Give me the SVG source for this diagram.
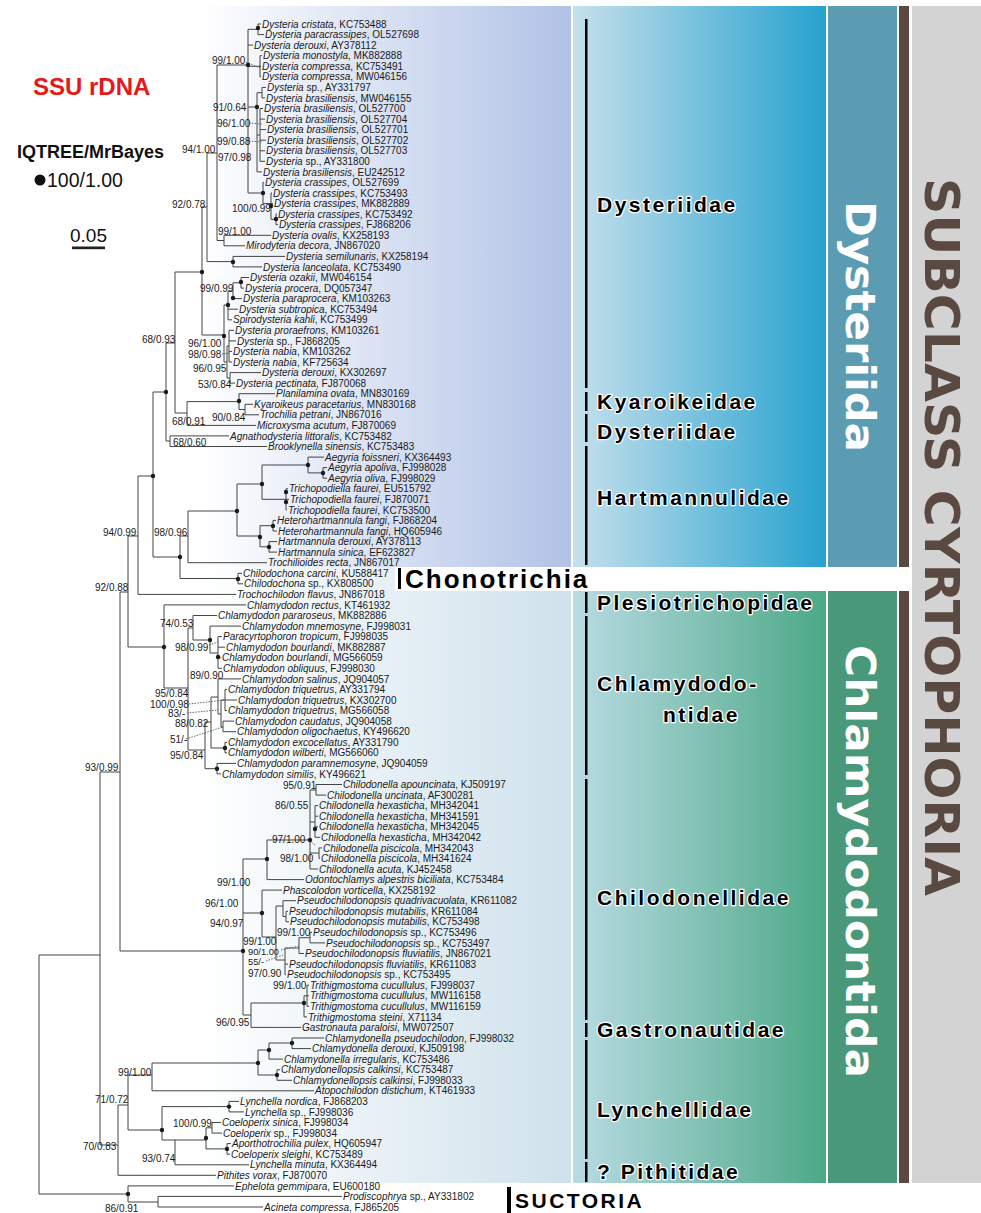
<svg xmlns="http://www.w3.org/2000/svg" width="981" height="1213" viewBox="0 0 981 1213">
<style>
.t{font-family:"Liberation Sans",Arial,sans-serif;font-size:10px;fill:#1a1a1a}
.i{font-style:italic}
.s{font-family:"Liberation Sans",Arial,sans-serif;font-size:10px;fill:#1a1a1a}
.s9{font-family:"Liberation Sans",Arial,sans-serif;font-size:9.3px;fill:#1a1a1a}
.fam{font-family:"Liberation Sans",Arial,sans-serif;font-weight:bold;font-size:21px;letter-spacing:2.5px;fill:#000;stroke:#fff;stroke-width:2.5px;paint-order:stroke;stroke-linejoin:round}
.br{fill:none;stroke:#444;stroke-width:1}
.dt{fill:none;stroke:#555;stroke-width:0.9;stroke-dasharray:1.5 1.3}
.d{fill:#1a1a1a}
.vbar{fill:#000}
.band{font-family:"DejaVu Sans Condensed","DejaVu Sans","Liberation Sans",sans-serif;font-stretch:condensed;font-weight:bold;font-size:40px;fill:#fff}
.sub{font-family:"DejaVu Sans Condensed","DejaVu Sans","Liberation Sans",sans-serif;font-stretch:condensed;font-weight:bold;font-size:48px;fill:#5a4940}
</style>
<defs>
<linearGradient id="gUL" x1="0" x2="1" y1="0" y2="0"><stop offset="0" stop-color="#ffffff"/><stop offset="1" stop-color="#b1c2e6"/></linearGradient>
<linearGradient id="gUR" x1="0" x2="1" y1="0" y2="0"><stop offset="0" stop-color="#c6e0ec"/><stop offset="1" stop-color="#27a2cf"/></linearGradient>
<linearGradient id="gLL" x1="0" x2="1" y1="0" y2="0"><stop offset="0" stop-color="#ffffff"/><stop offset="1" stop-color="#cfe1ec"/></linearGradient>
<linearGradient id="gLR" x1="0" x2="1" y1="0" y2="0"><stop offset="0" stop-color="#b9dbe3"/><stop offset="1" stop-color="#4ca887"/></linearGradient>
</defs>
<rect width="981" height="1213" fill="#fff"/>
<g id="backgrounds">
<rect x="200" y="6" width="371" height="561" fill="url(#gUL)"/>
<rect x="573" y="6" width="253" height="561" fill="url(#gUR)"/>
<rect x="828" y="6" width="69" height="561" fill="#5c9cb2"/>
<rect x="200" y="567" width="371" height="616" fill="url(#gLL)"/>
<rect x="573" y="591" width="253" height="592" fill="url(#gLR)"/>
<rect x="828" y="591" width="69" height="592" fill="#4a987a"/>
<rect x="899" y="6" width="10" height="1177" fill="#5a4940"/>
<rect x="912" y="6" width="69" height="1177" fill="#d3d3d3"/>
<rect x="395" y="567" width="516" height="24" fill="#fff"/>
</g>
<g id="legend">
<text x="33" y="95" font-family="Liberation Sans,Arial,sans-serif" font-weight="bold" font-size="24" fill="#e3191b">SSU rDNA</text>
<text x="17" y="158" font-family="Liberation Sans,Arial,sans-serif" font-weight="bold" font-size="18" fill="#111">IQTREE/MrBayes</text>
<circle cx="40" cy="180" r="5.5" fill="#111"/>
<text x="47" y="187" font-family="Liberation Sans,Arial,sans-serif" font-size="19.5" fill="#111">100/1.00</text>
<text x="70" y="241.5" font-family="Liberation Sans,Arial,sans-serif" font-size="19" fill="#111">0.05</text>
<rect x="72" y="246.5" width="33" height="2.7" fill="#222"/>
</g>
<g id="connectors">
<path class="br" d="M258,24V34.6M258,24H261M258,34.6H264M248,29.3H258M248,45.1H253
M260,55.7V76.8M260,55.7H262M260,66.3H261M260,76.8H261M248,66.3H260
M257,92.7V171.9M248,107H257M262,87.4V97.9M262,87.4H266M262,97.9H265M257,92.7H262
M260,108.5V161.3M260,108.5H263M260,119.1H265M260,129.6H266M260,140.2H266M260,150.8H265M260,161.3H265M257,135H260M257,171.9H262
M263,182.4V203.6M263,182.4H264M248,193H263M271,193V219.4M271,193H272M271,203.6H273M263,203.6H271
M276,214.1V224.7M276,214.1H277M276,224.7H278M271,219.4H276
M248,29.3V193M217,65H248M224,235.3V245.8M224,235.3H271M224,245.8H245M217,240.5H224M217,65V240.5M207,153H217
M233,256.4V266.9M233,256.4H285M233,266.9H262M207,261.6H233M207,153V261.6M202,207H207
M241,277.5V288.1M241,277.5H249M241,288.1H244M233,282.8H241M233,282.8V298.6M233,298.6H242M228,291H233
M228,291V319.8M228,309.2H238M228,319.8H232M224,305H228
M229,330.3V362M229,330.3H234M229,340.9H236M229,351.4H232M229,362H232M227,346H229
M230,372.6V383.1M230,372.6H261M230,383.1H235M227,378H230M227,346V378M224,362H227M224,305V362M202,335H224
M202,207V335M175,272H202
M245,404.3V414.8M245,404.3H253M245,414.8H259M239,409.5H245M239,393.7V409.5M239,393.7H275M187,401.6H239
M187,401.6V425.4M187,425.4H256M175,413H187M175,272V413M166,343H175
M170,435.9V446.5M170,435.9H229M170,446.5H267M166,441H170M166,343V441M153,392H166
M323,467.6V478.2M323,467.6H327M323,478.2H327M308,472.9H323M308,457.1V472.9M308,457.1H324M262,465H308
M286,488.8V509.9M286,488.8H288M286,499.3H289M286,509.9H287M262,499.3H286M262,465V499.3M237,484H262
M273,520.4V531M273,520.4H276M273,531H277M260,525.7H273M269,541.6V552.1M269,541.6H277M269,552.1H277M260,546.8H269
M260,525.7V546.8M237,536H260M237,484V536M188,511H237M188,511V562.7M188,562.7H267M180,536H188
M238,573.3V583.8M238,573.3H242M238,583.8H243M180,578.5H238M180,536V578.5M153,557H180M153,392V557M138,476H153
M138,476V594.4M138,594.4H236M128,536H138M128,536V647M120,592H128
M164,604.9V688M164,604.9H246M128,647H164M188,628V750M164,688H188
M193,615.5V640M193,615.5H217M188,628H193M210,626.1V653M210,626.1H241M193,640H210
M218,636.6V668.3M218,636.6H222M218,647.2H225M218,657.8H221M218,668.3H222M210,653H218
M218,678.9V714M218,678.9H241M211,697H218M221,700V727M218,714H221
M225,689.4V710.6M225,689.4H227M225,700H237M225,710.6H227M221,700H225
M223,721.1V731.7M223,721.1H234M223,731.7H236M221,727H223
M225,742.3V752.8M225,742.3H227M225,752.8H227M211,748H225M211,697V748M205,722H211
M217,763.4V773.9M217,763.4H236M217,773.9H221M205,768.7H217M205,722V768.7M188,750H205
M120,592V951M100,772H120M100,772V1145M39,955H100
M316,784.5V795.1M316,784.5H342M316,795.1H326M310,790H316
M315,805.6V837.3M315,805.6H318M315,816.2H318M315,826.8H318M315,837.3H320M310,822H315
M319,847.9V858.4M319,847.9H322M319,858.4H320M310,853H319
M310,790V869M310,869H318M267,840H310M267,840V879.6M267,879.6H304M243,859H267
M286,911.3V921.8M286,911.3H288M286,921.8H289M283,916.5H286M283,900.7V916.5M283,900.7H296M276,906H283
M310,932.4V942.9M310,932.4H312M310,942.9H325M299,937.7H310M299,937.7V953.5M299,953.5H304M285,948H299
M285,948V974.6M285,964.1H288M285,974.6H286M276,960H285M276,906V960M262,937H276
M262,890.1V937M262,890.1H282M243,913H262
M307,985.2V1006.3M307,985.2H309M307,995.8H309M307,1006.3H309M304,995.8H307M304,995.8V1016.9M304,1016.9H307M251,1003H304
M251,1003V1027.4M251,1027.4H301M243,1015H251M243,859V1015M120,951H243
M292,1038V1048.6M292,1038H324M292,1048.6H311M269,1043H292M269,1043V1059.1M269,1059.1H283M258,1050H269
M277,1069.7V1080.3M277,1069.7H280M277,1080.3H292M258,1075H277M258,1050V1075M152,1063H258
M152,1063V1090.8M152,1090.8H314M128,1075H152
M229,1101.4V1111.9M229,1101.4H239M229,1111.9H244M162,1106.6H229
M212,1122.5V1133.1M212,1122.5H221M212,1133.1H222M206,1127.8H212
M227,1143.6V1154.2M227,1143.6H231M227,1154.2H230M206,1148.9H227M206,1127.8V1148.9M175,1140H206
M175,1140V1164.8M175,1164.8H249M162,1140H175M162,1106.6V1140M128,1130H162
M128,1075V1130M118,1105H128M118,1105V1175.3M118,1175.3H216M100,1145H118
M39,955V1194M128,1185.9V1202M128,1185.9H234M39,1194H128M158,1196.4V1207M158,1196.4H342M158,1207H263M128,1202H158"/>
<path class="dt" d="M246,62L260,68M249,123L262,124M249,141L262,142M222,354L229,353M209,645L218,642M189,704L225,700M187,713L218,710M186,739L223,727M307,839L315,845M281,950L299,946M266,961L283,955"/>
<g class="d">
<circle cx="258" cy="28" r="2.2"/><circle cx="248" cy="65" r="2.2"/><circle cx="257" cy="107" r="2.2"/><circle cx="263" cy="193" r="2.2"/><circle cx="271" cy="206" r="2.2"/><circle cx="276" cy="219" r="2.2"/>
<circle cx="202" cy="272" r="2.2"/><circle cx="233" cy="262" r="2.2"/><circle cx="241" cy="282" r="2.2"/><circle cx="233" cy="298" r="2.2"/><circle cx="228" cy="305" r="2.2"/><circle cx="224" cy="336" r="2.2"/>
<circle cx="166" cy="392" r="2.2"/><circle cx="239" cy="401" r="2.2"/><circle cx="153" cy="476" r="2.2"/><circle cx="308" cy="465" r="2.2"/><circle cx="323" cy="473" r="2.2"/><circle cx="262" cy="484" r="2.2"/>
<circle cx="286" cy="492" r="2.2"/><circle cx="286" cy="502" r="2.2"/><circle cx="237" cy="511" r="2.2"/><circle cx="273" cy="526" r="2.2"/><circle cx="260" cy="537" r="2.2"/><circle cx="269" cy="547" r="2.2"/>
<circle cx="180" cy="557" r="2.2"/><circle cx="238" cy="579" r="2.2"/><circle cx="164" cy="647" r="2.2"/><circle cx="210" cy="640" r="2.2"/><circle cx="218" cy="657" r="2.2"/><circle cx="225" cy="748" r="2.2"/><circle cx="217" cy="768.7" r="2.2"/>
<circle cx="243" cy="951" r="2.2"/><circle cx="267" cy="859" r="2.2"/><circle cx="310" cy="840" r="2.2"/><circle cx="315" cy="829" r="2.2"/><circle cx="262" cy="913" r="2.2"/><circle cx="304" cy="1003" r="2.2"/>
<circle cx="258" cy="1063" r="2.2"/><circle cx="269" cy="1050" r="2.2"/><circle cx="292" cy="1043" r="2.2"/><circle cx="277" cy="1075" r="2.2"/><circle cx="162" cy="1130" r="2.2"/><circle cx="229" cy="1106.6" r="2.2"/>
<circle cx="206" cy="1138" r="2.2"/><circle cx="227" cy="1148.9" r="2.2"/><circle cx="128" cy="1194" r="2.2"/>
</g>
</g>
<g id="supports">
<text class="s" x="212" y="63.5">99/1.00</text><text class="s" x="213" y="110.5">91/0.64</text><text class="s" x="217" y="126.5">96/1.00</text><text class="s" x="217" y="144.5">99/0.88</text>
<text class="s" x="182" y="152.5">94/1.00</text><text class="s" x="218" y="160.5">97/0.98</text><text class="s" x="172" y="207.5">92/0.78</text><text class="s" x="232" y="211.5">100/0.99</text>
<text class="s" x="218" y="234.5">99/1.00</text><text class="s" x="200" y="291.5">99/0.99</text><text class="s" x="142" y="342.5">68/0.93</text><text class="s" x="188" y="346.5">96/1.00</text>
<text class="s" x="188" y="357.5">98/0.98</text><text class="s" x="193" y="371.5">96/0.95</text><text class="s" x="198" y="387.5">53/0.84</text><text class="s" x="212" y="420.5">90/0.84</text>
<text class="s" x="172" y="424.5">68/0.91</text><text class="s" x="173" y="445.5">68/0.60</text><text class="s" x="103" y="535.5">94/0.99</text><text class="s" x="154" y="535.5">98/0.96</text>
<text class="s" x="95" y="590.5">92/0.88</text><text class="s" x="160" y="626.5">74/0.53</text><text class="s" x="175" y="650.5">98/0.99</text><text class="s" x="190" y="678.5">89/0.90</text>
<text class="s" x="155" y="696.5">95/0.84</text><text class="s" x="150" y="707.5">100/0.98</text><text class="s" x="168" y="716.5">83/-</text><text class="s" x="175" y="726.5">88/0.82</text>
<text class="s" x="170" y="742.5">51/-</text><text class="s" x="170" y="758.5">95/0.84</text><text class="s" x="85" y="770.5">93/0.99</text><text class="s" x="283" y="788.5">95/0.91</text>
<text class="s" x="275" y="808.5">86/0.55</text><text class="s" x="272" y="842.5">97/1.00</text><text class="s" x="280" y="861.5">98/1.00</text><text class="s" x="217" y="885.5">99/1.00</text>
<text class="s" x="205" y="906.5">96/1.00</text><text class="s" x="210" y="926.5">94/0.97</text><text class="s" x="277" y="935.5">99/1.00</text><text class="s" x="243" y="945">99/1.00</text>
<text class="s9" x="248" y="954.5">90/1.00</text><text class="s9" x="248" y="965">55/-</text><text class="s" x="248" y="976.5">97/0.90</text><text class="s" x="273" y="988.5">99/1.00</text>
<text class="s" x="216" y="1025.5">96/0.95</text><text class="s" x="118" y="1075.5">99/1.00</text><text class="s" x="95" y="1102.5">71/0.72</text><text class="s" x="173" y="1126.5">100/0.99</text>
<text class="s" x="83" y="1149.5">70/0.83</text><text class="s" x="142" y="1161.5">93/0.74</text><text class="s" x="105" y="1212">86/0.91</text>
</g>
<g id="leaves">
<text class="t" x="262" y="27.6"><tspan class="i">Dysteria cristata</tspan>, KC753488</text>
<text class="t" x="265" y="38.2"><tspan class="i">Dysteria paracrassipes</tspan>, OL527698</text>
<text class="t" x="254" y="48.7"><tspan class="i">Dysteria derouxi</tspan>, AY378112</text>
<text class="t" x="263" y="59.3"><tspan class="i">Dysteria monostyla</tspan>, MK882888</text>
<text class="t" x="262" y="69.9"><tspan class="i">Dysteria compressa</tspan>, KC753491</text>
<text class="t" x="262" y="80.4"><tspan class="i">Dysteria compressa</tspan>, MW046156</text>
<text class="t" x="267" y="91"><tspan class="i">Dysteria</tspan> sp., AY331797</text>
<text class="t" x="266" y="101.5"><tspan class="i">Dysteria brasiliensis</tspan>, MW046155</text>
<text class="t" x="264" y="112.1"><tspan class="i">Dysteria brasiliensis</tspan>, OL527700</text>
<text class="t" x="266" y="122.7"><tspan class="i">Dysteria brasiliensis</tspan>, OL527704</text>
<text class="t" x="267" y="133.2"><tspan class="i">Dysteria brasiliensis</tspan>, OL527701</text>
<text class="t" x="267" y="143.8"><tspan class="i">Dysteria brasiliensis</tspan>, OL527702</text>
<text class="t" x="266" y="154.4"><tspan class="i">Dysteria brasiliensis</tspan>, OL527703</text>
<text class="t" x="266" y="164.9"><tspan class="i">Dysteria</tspan> sp., AY331800</text>
<text class="t" x="263" y="175.5"><tspan class="i">Dysteria brasiliensis</tspan>, EU242512</text>
<text class="t" x="265" y="186"><tspan class="i">Dysteria crassipes</tspan>, OL527699</text>
<text class="t" x="273" y="196.6"><tspan class="i">Dysteria crassipes</tspan>, KC753493</text>
<text class="t" x="274" y="207.2"><tspan class="i">Dysteria crassipes</tspan>, MK882889</text>
<text class="t" x="278" y="217.7"><tspan class="i">Dysteria crassipes</tspan>, KC753492</text>
<text class="t" x="279" y="228.3"><tspan class="i">Dysteria crassipes</tspan>, FJ868206</text>
<text class="t" x="272" y="238.9"><tspan class="i">Dysteria ovalis</tspan>, KX258193</text>
<text class="t" x="246" y="249.4"><tspan class="i">Mirodyteria decora</tspan>, JN867020</text>
<text class="t" x="286" y="260"><tspan class="i">Dysteria semilunaris</tspan>, KX258194</text>
<text class="t" x="263" y="270.5"><tspan class="i">Dysteria lanceolata</tspan>, KC753490</text>
<text class="t" x="250" y="281.1"><tspan class="i">Dysteria ozakii</tspan>, MW046154</text>
<text class="t" x="245" y="291.7"><tspan class="i">Dysteria procera</tspan>, DQ057347</text>
<text class="t" x="243" y="302.2"><tspan class="i">Dysteria paraprocera</tspan>, KM103263</text>
<text class="t" x="239" y="312.8"><tspan class="i">Dysteria subtropica</tspan>, KC753494</text>
<text class="t" x="233" y="323.4"><tspan class="i">Spirodysteria kahli</tspan>, KC753499</text>
<text class="t" x="235" y="333.9"><tspan class="i">Dysteria proraefrons</tspan>, KM103261</text>
<text class="t" x="237" y="344.5"><tspan class="i">Dysteria</tspan> sp., FJ868205</text>
<text class="t" x="233" y="355"><tspan class="i">Dysteria nabia</tspan>, KM103262</text>
<text class="t" x="233" y="365.6"><tspan class="i">Dysteria nabia</tspan>, KF725634</text>
<text class="t" x="262" y="376.2"><tspan class="i">Dysteria derouxi</tspan>, KX302697</text>
<text class="t" x="236" y="386.7"><tspan class="i">Dysteria pectinata</tspan>, FJ870068</text>
<text class="t" x="276" y="397.3"><tspan class="i">Planilamina ovata</tspan>, MN830169</text>
<text class="t" x="254" y="407.9"><tspan class="i">Kyaroikeus paracetarius</tspan>, MN830168</text>
<text class="t" x="260" y="418.4"><tspan class="i">Trochilia petrani</tspan>, JN867016</text>
<text class="t" x="257" y="429"><tspan class="i">Microxysma acutum</tspan>, FJ870069</text>
<text class="t" x="230" y="439.5"><tspan class="i">Agnathodysteria littoralis</tspan>, KC753482</text>
<text class="t" x="268" y="450.1"><tspan class="i">Brooklynella sinensis</tspan>, KC753483</text>
<text class="t" x="325" y="460.7"><tspan class="i">Aegyria foissneri</tspan>, KX364493</text>
<text class="t" x="328" y="471.2"><tspan class="i">Aegyria apoliva</tspan>, FJ998028</text>
<text class="t" x="328" y="481.8"><tspan class="i">Aegyria oliva</tspan>, FJ998029</text>
<text class="t" x="289" y="492.4"><tspan class="i">Trichopodiella faurei</tspan>, EU515792</text>
<text class="t" x="290" y="502.9"><tspan class="i">Trichopodiella faurei</tspan>, FJ870071</text>
<text class="t" x="288" y="513.5"><tspan class="i">Trichopodiella faurei</tspan>, KC753500</text>
<text class="t" x="277" y="524"><tspan class="i">Heterohartmannula fangi</tspan>, FJ868204</text>
<text class="t" x="278" y="534.6"><tspan class="i">Heterohartmannula fangi</tspan>, HQ605946</text>
<text class="t" x="278" y="545.2"><tspan class="i">Hartmannula derouxi</tspan>, AY378113</text>
<text class="t" x="278" y="555.7"><tspan class="i">Hartmannula sinica</tspan>, EF623827</text>
<text class="t" x="268" y="566.3"><tspan class="i">Trochilioides recta</tspan>, JN867017</text>
<text class="t" x="243" y="576.9"><tspan class="i">Chilodochona carcini</tspan>, KU588417</text>
<text class="t" x="244" y="587.4"><tspan class="i">Chilodochona</tspan> sp., KX808500</text>
<text class="t" x="237" y="598"><tspan class="i">Trochochilodon flavus</tspan>, JN867018</text>
<text class="t" x="247" y="608.5"><tspan class="i">Chlamydodon rectus</tspan>, KT461932</text>
<text class="t" x="218" y="619.1"><tspan class="i">Chlamydodon pararoseus</tspan>, MK882886</text>
<text class="t" x="242" y="629.7"><tspan class="i">Chlamydodon mnemosyne</tspan>, FJ998031</text>
<text class="t" x="223" y="640.2"><tspan class="i">Paracyrtophoron tropicum</tspan>, FJ998035</text>
<text class="t" x="226" y="650.8"><tspan class="i">Chlamydodon bourlandi</tspan>, MK882887</text>
<text class="t" x="222" y="661.4"><tspan class="i">Chlamydodon bourlandi</tspan>, MG566059</text>
<text class="t" x="223" y="671.9"><tspan class="i">Chlamydodon obliquus</tspan>, FJ998030</text>
<text class="t" x="242" y="682.5"><tspan class="i">Chlamydodon salinus</tspan>, JQ904057</text>
<text class="t" x="228" y="693"><tspan class="i">Chlamydodon triquetrus</tspan>, AY331794</text>
<text class="t" x="238" y="703.6"><tspan class="i">Chlamydodon triquetrus</tspan>, KX302700</text>
<text class="t" x="228" y="714.2"><tspan class="i">Chlamydodon triquetrus</tspan>, MG566058</text>
<text class="t" x="235" y="724.7"><tspan class="i">Chlamydodon caudatus</tspan>, JQ904058</text>
<text class="t" x="237" y="735.3"><tspan class="i">Chlamydodon oligochaetus</tspan>, KY496620</text>
<text class="t" x="228" y="745.9"><tspan class="i">Chlamydodon excocellatus</tspan>, AY331790</text>
<text class="t" x="228" y="756.4"><tspan class="i">Chlamydodon wilberti</tspan>, MG566060</text>
<text class="t" x="237" y="767"><tspan class="i">Chlamydodon paramnemosyne</tspan>, JQ904059</text>
<text class="t" x="222" y="777.5"><tspan class="i">Chlamydodon similis</tspan>, KY496621</text>
<text class="t" x="343" y="788.1"><tspan class="i">Chilodonella apouncinata</tspan>, KJ509197</text>
<text class="t" x="327" y="798.7"><tspan class="i">Chilodonella uncinata</tspan>, AF300281</text>
<text class="t" x="319" y="809.2"><tspan class="i">Chilodonella hexasticha</tspan>, MH342041</text>
<text class="t" x="319" y="819.8"><tspan class="i">Chilodonella hexasticha</tspan>, MH341591</text>
<text class="t" x="319" y="830.4"><tspan class="i">Chilodonella hexasticha</tspan>, MH342045</text>
<text class="t" x="321" y="840.9"><tspan class="i">Chilodonella hexasticha</tspan>, MH342042</text>
<text class="t" x="323" y="851.5"><tspan class="i">Chilodonella piscicola</tspan>, MH342043</text>
<text class="t" x="321" y="862"><tspan class="i">Chilodonella piscicola</tspan>, MH341624</text>
<text class="t" x="319" y="872.6"><tspan class="i">Chilodonella acuta</tspan>, KJ452458</text>
<text class="t" x="305" y="883.2"><tspan class="i">Odontochlamys alpestris biciliata</tspan>, KC753484</text>
<text class="t" x="283" y="893.7"><tspan class="i">Phascolodon vorticella</tspan>, KX258192</text>
<text class="t" x="297" y="904.3"><tspan class="i">Pseudochilodonopsis quadrivacuolata</tspan>, KR611082</text>
<text class="t" x="289" y="914.9"><tspan class="i">Pseudochilodonopsis mutabilis</tspan>, KR611084</text>
<text class="t" x="290" y="925.4"><tspan class="i">Pseudochilodonopsis mutabilis</tspan>, KC753498</text>
<text class="t" x="313" y="936"><tspan class="i">Pseudochilodonopsis</tspan> sp., KC753496</text>
<text class="t" x="326" y="946.5"><tspan class="i">Pseudochilodonopsis</tspan> sp., KC753497</text>
<text class="t" x="305" y="957.1"><tspan class="i">Pseudochilodonopsis fluviatilis</tspan>, JN867021</text>
<text class="t" x="289" y="967.7"><tspan class="i">Pseudochilodonopsis fluviatilis</tspan>, KR611083</text>
<text class="t" x="287" y="978.2"><tspan class="i">Pseudochilodonopsis</tspan> sp., KC753495</text>
<text class="t" x="310" y="988.8"><tspan class="i">Trithigmostoma cucullulus</tspan>, FJ998037</text>
<text class="t" x="310" y="999.4"><tspan class="i">Trithigmostoma cucullulus</tspan>, MW116158</text>
<text class="t" x="310" y="1009.9"><tspan class="i">Trithigmostoma cucullulus</tspan>, MW116159</text>
<text class="t" x="308" y="1020.5"><tspan class="i">Trithigmostoma steini</tspan>, X71134</text>
<text class="t" x="302" y="1031"><tspan class="i">Gastronauta paraloisi</tspan>, MW072507</text>
<text class="t" x="325" y="1041.6"><tspan class="i">Chlamydonella pseudochilodon</tspan>, FJ998032</text>
<text class="t" x="312" y="1052.2"><tspan class="i">Chlamydonella derouxi</tspan>, KJ509198</text>
<text class="t" x="284" y="1062.7"><tspan class="i">Chlamydonella irregularis</tspan>, KC753486</text>
<text class="t" x="281" y="1073.3"><tspan class="i">Chlamydonellopsis calkinsi</tspan>, KC753487</text>
<text class="t" x="293" y="1083.9"><tspan class="i">Chlamydonellopsis calkinsi</tspan>, FJ998033</text>
<text class="t" x="315" y="1094.4"><tspan class="i">Atopochilodon distichum</tspan>, KT461933</text>
<text class="t" x="240" y="1105"><tspan class="i">Lynchella nordica</tspan>, FJ868203</text>
<text class="t" x="245" y="1115.5"><tspan class="i">Lynchella</tspan> sp., FJ998036</text>
<text class="t" x="222" y="1126.1"><tspan class="i">Coeloperix sinica</tspan>, FJ998034</text>
<text class="t" x="223" y="1136.7"><tspan class="i">Coeloperix</tspan> sp., FJ998034</text>
<text class="t" x="232" y="1147.2"><tspan class="i">Aporthotrochilia pulex</tspan>, HQ605947</text>
<text class="t" x="231" y="1157.8"><tspan class="i">Coeloperix sleighi</tspan>, KC753489</text>
<text class="t" x="250" y="1168.4"><tspan class="i">Lynchella minuta</tspan>, KX364494</text>
<text class="t" x="217" y="1178.9"><tspan class="i">Pithites vorax</tspan>, FJ870070</text>
<text class="t" x="235" y="1189.5"><tspan class="i">Ephelota gemmipara</tspan>, EU600180</text>
<text class="t" x="343" y="1200"><tspan class="i">Prodiscophrya</tspan> sp., AY331802</text>
<text class="t" x="264" y="1210.6"><tspan class="i">Acineta compressa</tspan>, FJ865205</text>
</g>
<g id="family-bars">
<rect class="vbar" x="585" y="19" width="2.5" height="369"/>
<rect class="vbar" x="585" y="392" width="2.5" height="19"/>
<rect class="vbar" x="585" y="414" width="2.5" height="28"/>
<rect class="vbar" x="585" y="446" width="2.5" height="119"/>
<rect class="vbar" x="585" y="592" width="2.5" height="21"/>
<rect class="vbar" x="585" y="616" width="2.5" height="159"/>
<rect class="vbar" x="585" y="779" width="2.5" height="241"/>
<rect class="vbar" x="585" y="1023" width="2.5" height="14"/>
<rect class="vbar" x="585" y="1040" width="2.5" height="119"/>
<rect class="vbar" x="585" y="1162" width="2.5" height="20"/>
<rect class="vbar" x="398" y="568" width="3" height="21"/>
<rect class="vbar" x="507" y="1187" width="4" height="26"/>
</g>
<g id="family-labels">
<text class="fam" x="597" y="212">Dysteriidae</text>
<text class="fam" x="597" y="409">Kyaroikeidae</text>
<text class="fam" x="597" y="439">Dysteriidae</text>
<text class="fam" x="597" y="505">Hartmannulidae</text>
<text x="405" y="588" font-family="Liberation Sans,Arial,sans-serif" font-weight="bold" font-size="26" letter-spacing="2" fill="#000">Chonotrichia</text>
<text class="fam" x="597" y="610">Plesiotrichopidae</text>
<text class="fam" x="597" y="691">Chlamydodo-</text>
<text class="fam" x="663" y="722">ntidae</text>
<text class="fam" x="597" y="905">Chilodonellidae</text>
<text class="fam" x="597" y="1037">Gastronautidae</text>
<text class="fam" x="597" y="1117">Lynchellidae</text>
<text class="fam" x="597" y="1179">? Pithitidae</text>
<text class="fam" x="515" y="1208" stroke="none">SUCTORIA</text>
</g>
<g id="orders">
<text class="band" transform="translate(846,201) rotate(90)" textLength="251" lengthAdjust="spacingAndGlyphs">Dysteriida</text>
<text class="band" transform="translate(846,645) rotate(90)" textLength="433" lengthAdjust="spacingAndGlyphs">Chlamydodontida</text>
</g>
<g id="subclass">
<text class="sub" transform="translate(925,178) rotate(90)" textLength="718" lengthAdjust="spacingAndGlyphs">SUBCLASS CYRTOPHORIA</text>
</g>
</svg>
